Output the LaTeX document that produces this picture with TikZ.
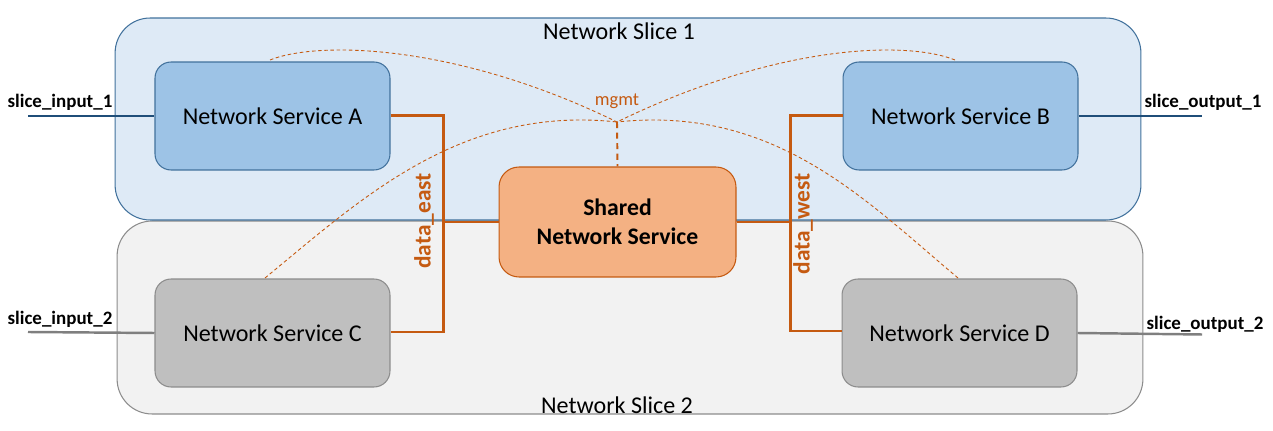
\documentclass[tikz,border=0pt]{standalone}
\usepackage{fontspec}
\setmainfont{Carlito}
\definecolor{sonefill}{HTML}{DEEAF6}
\definecolor{soneline}{HTML}{41719C}
\definecolor{stwofill}{HTML}{F2F2F2}
\definecolor{stwoline}{HTML}{8C8C8C}
\definecolor{bluebox}{HTML}{9DC3E6}
\definecolor{graybox}{HTML}{BFBFBF}
\definecolor{grayline}{HTML}{8C8C8C}
\definecolor{orfill}{HTML}{F4B183}
\definecolor{orline}{HTML}{C55A11}
\definecolor{inone}{HTML}{1F4E79}
\definecolor{intwo}{HTML}{7F7F7F}
\begin{document}
\begin{tikzpicture}[x=0.02cm,y=-0.02cm,
  slicebox/.style={rectangle,rounded corners=0.7cm,minimum width=20.52cm,line width=0.6pt,inner sep=0pt},
  svc/.style={rectangle,rounded corners=0.32cm,minimum width=4.7cm,minimum height=2.16cm,line width=0.6pt,font=\fontsize{13.7}{16}\selectfont,inner sep=0pt},
  svcblue/.style={svc,fill=bluebox,draw=soneline},
  svcgray/.style={svc,fill=graybox,draw=grayline},
  datalink/.style={orline,line width=1.7pt},
  mgmtcurve/.style={orline,line width=0.5pt,dash pattern=on 2pt off 1.5pt},
  iolabel/.style={font=\bfseries\fontsize{10.8}{13}\selectfont},
  slicelabel/.style={font=\fontsize{13.7}{16}\selectfont},
  datalabel/.style={font=\bfseries\fontsize{13.3}{15}\selectfont,text=orline,rotate=90}]
\useasboundingbox (0,0) rectangle (1273,431);
% slices
\node[slicebox,fill=stwofill,draw=stwoline,minimum height=3.86cm] (s2) at (630,317.5) {};
\node[slicebox,fill=sonefill,draw=soneline,minimum height=4.04cm] (s1) at (628,119) {};
\node[slicelabel] (s1l) at (619,31) {Network Slice 1};
\node[slicelabel] (s2l) at (617,405) {Network Slice 2};
% services
\node[svcblue] (A) at (272.5,116) {Network Service A};
\node[svcblue] (B) at (960.5,116) {Network Service B};
\node[svcgray] (C) at (272.5,333) {Network Service C};
\node[svcgray] (D) at (959.5,333) {Network Service D};
\node[rectangle,rounded corners=0.4cm,minimum width=4.74cm,minimum height=2.2cm,fill=orfill,draw=orline,line width=0.6pt,align=center,font=\bfseries\fontsize{13.5}{16.5}\selectfont,inner sep=0pt] (S) at (617.5,222) {Shared\\Network Service};
% data links
\coordinate (ea) at (443,116);
\coordinate (ec) at (443,332);
\coordinate (em) at (443,222);
\coordinate (wb) at (790,116);
\coordinate (wd) at (790,331);
\coordinate (wm) at (790,222);
\draw[datalink] (A.east |- ea) -- (ea) -- (ec) -- (C.east |- ec);
\draw[datalink] (em) -- (S.west);
\draw[datalink] (B.west |- wb) -- (wb) -- (wd) -- (D.west |- wd);
\draw[datalink] (S.east) -- (wm);
\node[datalabel] (de) at (424,221) {data\_east};
\node[datalabel] (dw) at (803,224) {data\_west};
% mgmt
\coordinate (j) at (617,122);
\node[font=\fontsize{10.5}{12}\selectfont,text=orline] (mg) at (617,101) {mgmt};
\draw[orline,line width=1.1pt,dash pattern=on 3.5pt off 2.5pt] (j) -- (S.north);
\draw[mgmtcurve] (270,60) .. controls (320,40) and (460,45) .. (j);
\draw[mgmtcurve] (955,60) .. controls (905,40) and (775,45) .. (j);
\draw[mgmtcurve] (265,278) .. controls (360,200) and (460,105) .. (j);
\draw[mgmtcurve] (958,278) .. controls (865,200) and (775,105) .. (j);
% inputs / outputs
\coordinate (i1) at (28,116);
\coordinate (o1) at (1202,116);
\coordinate (i2) at (28,332);
\coordinate (o2) at (1202,334.5);
\draw[inone,line width=1.4pt] (i1) -- (A.west);
\draw[inone,line width=1.4pt] (B.east) -- (o1);
\draw[intwo,line width=1.4pt] (i2) -- (C.west);
\draw[intwo,line width=1.4pt] (D.east) -- (o2);
\node[iolabel] (li1) at (60,102) {slice\_input\_1};
\node[iolabel] (lo1) at (1203,102) {slice\_output\_1};
\node[iolabel] (li2) at (60,319) {slice\_input\_2};
\node[iolabel] (lo2) at (1205,324) {slice\_output\_2};
\end{tikzpicture}
\end{document}
